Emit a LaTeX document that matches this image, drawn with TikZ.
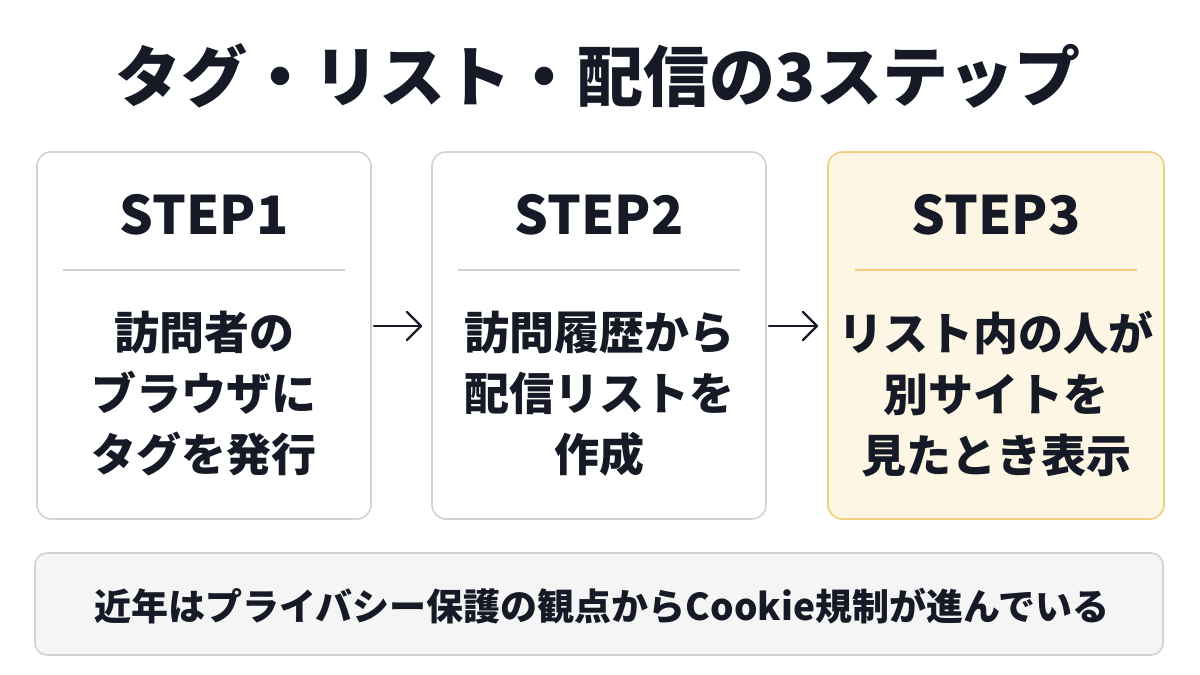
\documentclass[tikz,border=0pt]{standalone}
\usepackage{fontspec}
\setmainfont{Noto Sans CJK JP}
\usetikzlibrary{arrows.meta}
\definecolor{ink}{HTML}{151A26}
\definecolor{boxline}{HTML}{D2D2D2}
\definecolor{hlfill}{HTML}{FDF6E4}
\definecolor{hlline}{HTML}{F2CF80}
\definecolor{notefill}{HTML}{F5F5F5}
\tikzset{
  card/.style={draw=boxline, line width=1.6pt, fill=white, rounded corners=14pt},
  hlcard/.style={draw=hlline, line width=1.6pt, fill=hlfill, rounded corners=14pt},
  note/.style={draw=boxline, line width=1.6pt, fill=notefill, rounded corners=12pt},
  steplabel/.style={text=ink, font=\bfseries\fontsize{53}{53}\selectfont, anchor=center},
  body/.style={text=ink, align=center, font=\bfseries\fontsize{45}{61}\selectfont, anchor=center},
  flow/.style={draw=ink, line width=2.4pt, line cap=round, line join=round},
}
\begin{document}
\begin{tikzpicture}[x=1pt,y=-1pt]
\useasboundingbox[fill=white] (0,0) rectangle (1200,675);
\node[text=ink, font=\bfseries\fontsize{66}{66}\selectfont] (title) at (598,76) {タグ・リスト・配信の3ステップ};

\draw[card] (37,152) rectangle (371,519);
\draw[card] (432,152) rectangle (766,519);
\draw[hlcard] (828,152) rectangle (1164,519);

\node[steplabel] (s1) at (204,215) {STEP1};
\node[steplabel] (s2) at (599,215) {STEP2};
\node[steplabel] (s3) at (996,215) {STEP3};

\draw[boxline, line width=1.6pt] (63,270) -- (345,270);
\draw[boxline, line width=1.6pt] (458,270) -- (740,270);
\draw[hlline, line width=1.6pt] (855,270) -- (1137,270);

\node[body] (b1) at (204,394) {訪問者の\\ブラウザに\\タグを発行};
\node[body] (b2) at (599,394) {訪問履歴から\\配信リストを\\作成};
\node[body] (b3) at (996,394) {リスト内の人が\\別サイトを\\見たとき表示};

\coordinate (a1s) at (374,326);
\coordinate (a1e) at (421,326);
\coordinate (a2s) at (769,326);
\coordinate (a2e) at (817,326);
\draw[flow] (a1s) -- (a1e);
\draw[flow] (a1e) ++(-14,-14) -- (a1e) -- ++(-14,14);
\draw[flow] (a2s) -- (a2e);
\draw[flow] (a2e) ++(-14,-14) -- (a2e) -- ++(-14,14);

\draw[note] (35,553) rectangle (1163,655);
\node[text=ink, font=\bfseries\fontsize{37}{37}\selectfont] (n) at (602,606) {近年はプライバシー保護の観点からCookie規制が進んでいる};
\end{tikzpicture}
\end{document}
